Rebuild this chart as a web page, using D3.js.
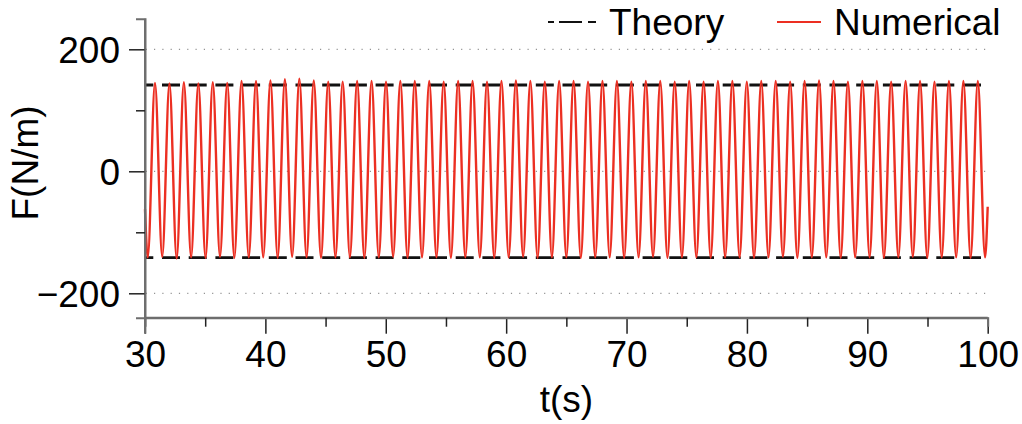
<!DOCTYPE html>
<html>
<head>
<meta charset="utf-8">
<script src="https://cdn.jsdelivr.net/npm/d3@7"></script>
<style>
  html, body { margin: 0; padding: 0; background: #fff; }
  svg { display: block; font-family: "Liberation Sans", Arial, Helvetica, sans-serif; }
</style>
</head>
<body>
<svg id="chart" width="1022" height="424"></svg>
<script>
// Numerical force signal, sampled at its turning points (s, N/m)
const numTime = [
  30.00,
  30.23, 30.83, 31.43, 32.03, 32.63, 33.23, 33.83, 34.43, 35.03, 35.63,
  36.23, 36.83, 37.42, 38.02, 38.62, 39.22, 39.82, 40.42, 41.02, 41.62,
  42.22, 42.82, 43.42, 44.02, 44.62, 45.22, 45.82, 46.42, 47.02, 47.62,
  48.22, 48.82, 49.42, 50.02, 50.61, 51.21, 51.81, 52.41, 53.01, 53.61,
  54.21, 54.81, 55.41, 56.01, 56.61, 57.21, 57.81, 58.41, 59.01, 59.61,
  60.21, 60.81, 61.41, 62.01, 62.61, 63.21, 63.80, 64.40, 65.00, 65.60,
  66.20, 66.80, 67.40, 68.00, 68.60, 69.20, 69.80, 70.40, 71.00, 71.60,
  72.20, 72.80, 73.40, 74.00, 74.60, 75.20, 75.80, 76.40, 76.99, 77.59,
  78.19, 78.79, 79.39, 79.99, 80.59, 81.19, 81.79, 82.39, 82.99, 83.59,
  84.19, 84.79, 85.39, 85.99, 86.59, 87.19, 87.79, 88.39, 88.99, 89.59,
  90.19, 90.79, 91.38, 91.98, 92.58, 93.18, 93.78, 94.38, 94.98, 95.58,
  96.18, 96.78, 97.38, 97.98, 98.58, 99.18,
  99.78, 100.00
];
const numForce = [
  -62,
  -141, 145, -140, 144, -143, 146, -141, 144, -142, 146,
  -140, 145, -142, 148, -141, 148, -141, 149, -142, 151,
  -140, 152, -141, 149, -142, 147, -141, 147, -141, 148,
  -142, 148, -141, 147, -140, 148, -142, 148, -141, 148,
  -141, 147, -142, 148, -141, 148, -141, 147, -142, 148,
  -141, 149, -140, 148, -142, 147, -141, 148, -141, 148,
  -142, 147, -141, 148, -141, 148, -142, 147, -141, 148,
  -140, 148, -142, 147, -141, 148, -141, 147, -142, 148,
  -141, 148, -141, 147, -142, 148, -141, 148, -140, 147,
  -142, 148, -141, 149, -141, 148, -142, 147, -141, 148,
  -141, 148, -142, 147, -141, 148, -140, 148, -142, 147,
  -141, 148, -141, 148, -142, 148,
  -141, -58
];

// Theoretical amplitude envelope
const theoryTime = [30, 100];
const theoryAmp = 141.5;

// Axis ticks
const xMajor = [30, 40, 50, 60, 70, 80, 90, 100];
const xMinor = [35, 45, 55, 65, 75, 85, 95];
const yMajor = [-200, 0, 200];
const yMinor = [-100, 100];
const yGrid = [-200, 0, 200];

const seriesNames = ["Theory", "Numerical"];
const red = "#ec2f22";
const axisGray = "#6e6e6e";
const fontSize = 37;

const svg = d3.select("#chart");
const x = d3.scaleLinear().domain([30, 100]).range([145, 987.7]);
const y = d3.scaleLinear().domain([-240, 250]).range([317.7, 18.8]);

// dotted grid lines
svg.append("g").selectAll("line").data(yGrid).join("line")
  .attr("x1", x(30) + 1).attr("x2", x(100))
  .attr("y1", d => y(d)).attr("y2", d => y(d))
  .attr("stroke", "#7a7a7a").attr("stroke-width", 1)
  .attr("stroke-dasharray", "1.2,7.1").attr("stroke-dashoffset", -8);

// theory envelope (upper and lower)
const theoryLine = d3.line().x(d => x(d[0])).y(d => y(d[1]));
[theoryAmp, -theoryAmp].forEach(a => {
  svg.append("path")
    .datum(theoryTime.map(t => [t, a]))
    .attr("d", theoryLine)
    .attr("fill", "none")
    .attr("stroke", "#111")
    .attr("stroke-width", 2.8)
    .attr("stroke-dasharray", "18,8.7")
    .attr("stroke-dashoffset", 9.7);
});

// numerical signal
const numLine = d3.line()
  .x((d, i) => x(numTime[i]))
  .y(d => y(d))
  .curve(d3.curveMonotoneX);
svg.append("path")
  .datum(numForce)
  .attr("d", numLine)
  .attr("fill", "none")
  .attr("stroke", red)
  .attr("stroke-width", 2.4)
  .attr("stroke-linejoin", "round");

// axes
const gx = svg.append("g").attr("transform", `translate(0,${y(-240)})`);
gx.call(d3.axisBottom(x).tickValues(xMajor).tickSize(16).tickFormat(d3.format("d")));
gx.append("g").call(d3.axisBottom(x).tickValues(xMinor).tickSize(9).tickFormat(""));

const gy = svg.append("g").attr("transform", `translate(${x(30)},0)`);
gy.call(d3.axisLeft(y).tickValues(yMajor).tickSize(16)
  .tickFormat(d => d < 0 ? "\u2212" + Math.abs(d) : String(d)));
gy.append("g").call(d3.axisLeft(y).tickValues(yMinor).tickSize(9).tickFormat(""));

svg.selectAll(".domain").attr("stroke", axisGray).attr("stroke-width", 2);
gy.select(".domain").attr("d", `M0,${y(250)}V${y(-240) + 16}`);
gx.select(".domain").attr("d", `M${x(30)},0H${x(100)}`);
svg.selectAll(".tick line").attr("stroke", "#222").attr("stroke-width", 1.5);
svg.selectAll(".tick text").attr("fill", "#000").attr("font-size", fontSize)
  .attr("font-family", "'Liberation Sans', Arial, Helvetica, sans-serif");
gx.selectAll(".tick text").attr("dy", null).attr("y", 49.5);
gy.selectAll(".tick text").attr("dy", null).attr("x", -25).attr("y", 12.8);

// axis titles
svg.append("text").attr("x", x(65)).attr("y", 412)
  .attr("text-anchor", "middle").attr("font-size", fontSize).text("t(s)");
svg.append("text").attr("transform", `translate(38,163) rotate(-90)`)
  .attr("text-anchor", "middle").attr("font-size", fontSize).text("F(N/m)");

// legend
const legend = svg.append("g");
legend.append("line").attr("x1", 548).attr("x2", 596).attr("y1", 22).attr("y2", 22)
  .attr("stroke", "#111").attr("stroke-width", 2)
  .attr("stroke-dasharray", "6,5,23,6,8");
legend.append("text").attr("x", 609).attr("y", 34.5).attr("font-size", fontSize).text(seriesNames[0]);
legend.append("line").attr("x1", 777).attr("x2", 821).attr("y1", 22).attr("y2", 22)
  .attr("stroke", red).attr("stroke-width", 2.2);
legend.append("text").attr("x", 834).attr("y", 34.5).attr("font-size", fontSize).text(seriesNames[1]);
</script>
</body>
</html>
